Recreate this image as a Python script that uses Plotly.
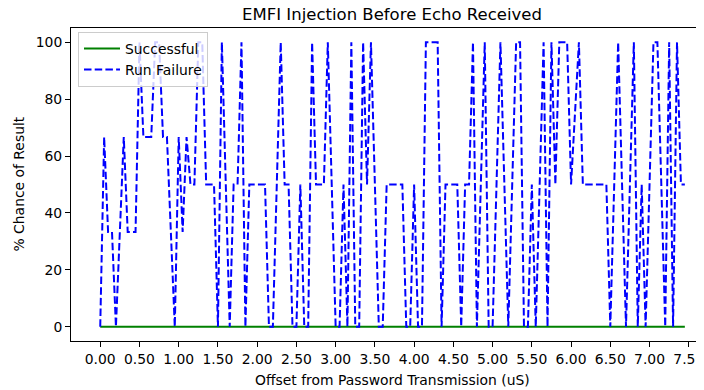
import plotly.graph_objects as go

offsets = [
    0.00, 0.05, 0.10, 0.15, 0.20, 0.25, 0.30, 0.35, 0.40, 0.45,
    0.50, 0.55, 0.60, 0.65, 0.70, 0.75, 0.80, 0.85, 0.90, 0.95,
    1.00, 1.05, 1.10, 1.15, 1.20, 1.25, 1.30, 1.35, 1.40, 1.45,
    1.50, 1.55, 1.60, 1.65, 1.70, 1.75, 1.80, 1.85, 1.90, 1.95,
    2.00, 2.05, 2.10, 2.15, 2.20, 2.25, 2.30, 2.35, 2.40, 2.45,
    2.50, 2.55, 2.60, 2.65, 2.70, 2.75, 2.80, 2.85, 2.90, 2.95,
    3.00, 3.05, 3.10, 3.15, 3.20, 3.25, 3.30, 3.35, 3.40, 3.45,
    3.50, 3.55, 3.60, 3.65, 3.70, 3.75, 3.80, 3.85, 3.90, 3.95,
    4.00, 4.05, 4.10, 4.15, 4.20, 4.25, 4.30, 4.35, 4.40, 4.45,
    4.50, 4.55, 4.60, 4.65, 4.70, 4.75, 4.80, 4.85, 4.90, 4.95,
    5.00, 5.05, 5.10, 5.15, 5.20, 5.25, 5.30, 5.35, 5.40, 5.45,
    5.50, 5.55, 5.60, 5.65, 5.70, 5.75, 5.80, 5.85, 5.90, 5.95,
    6.00, 6.05, 6.10, 6.15, 6.20, 6.25, 6.30, 6.35, 6.40, 6.45,
    6.50, 6.55, 6.60, 6.65, 6.70, 6.75, 6.80, 6.85, 6.90, 6.95,
    7.00, 7.05, 7.10, 7.15, 7.20, 7.25, 7.30, 7.35, 7.40, 7.45,
]

run_failure = [
    0, 66.7, 33.3, 33.3, 0, 33.3, 66.7, 33.3, 33.3, 33.3,
    100, 66.7, 66.7, 66.7, 100, 100, 66.7, 66.7, 33.3, 0,
    66.7, 33.3, 66.7, 50, 50, 100, 100, 50, 50, 50,
    0, 100, 50, 0, 50, 50, 100, 0, 50, 50,
    50, 50, 50, 0, 0, 50, 100, 50, 50, 0,
    0, 50, 0, 0, 100, 50, 50, 50, 100, 50,
    0, 0, 50, 0, 100, 0, 0, 100, 50, 100,
    50, 0, 0, 50, 50, 50, 50, 50, 0, 0,
    50, 0, 0, 100, 100, 100, 100, 0, 50, 50,
    50, 50, 0, 50, 50, 100, 0, 50, 100, 0,
    0, 50, 100, 50, 0, 50, 100, 100, 0, 0,
    50, 0, 50, 100, 0, 100, 50, 100, 100, 100,
    50, 75, 100, 50, 50, 50, 50, 50, 50, 50,
    0, 50, 100, 50, 0, 50, 100, 0, 50, 0,
    50, 100, 100, 50, 0, 100, 0, 100, 50, 50,
]

successful = [0] * len(offsets)

x_tick_vals = [0.0, 0.5, 1.0, 1.5, 2.0, 2.5, 3.0, 3.5, 4.0, 4.5, 5.0, 5.5, 6.0, 6.5, 7.0, 7.5]
y_tick_vals = [0, 20, 40, 60, 80, 100]

FONT = "DejaVu Sans"
FS = 13.9

# the page body has an 8px margin, so the figure is sized/positioned to compensate
OFF = 8
W, H = 704 - OFF, 390 - OFF
L = 71 - OFF
T = 28 - OFF
plot_h = 313
B = H - T - plot_h
plot_w = W - L

fig = go.Figure()
fig.add_trace(go.Scatter(
    x=offsets, y=successful, mode="lines", name="Successful",
    line=dict(color="#008000", width=2.0),
))
fig.add_trace(go.Scatter(
    x=offsets, y=run_failure, mode="lines", name="Run Failure",
    line=dict(color="#0000ff", width=2.0, dash="7.5px,3.2px"),
))

fig.update_layout(
    width=W, height=H,
    margin=dict(l=L, r=0, t=T, b=B, pad=0, autoexpand=False),
    plot_bgcolor="white", paper_bgcolor="white",
    font=dict(family=FONT, size=FS, color="black"),
    showlegend=True,
    legend=dict(
        x=(78 - 71) / plot_w, y=1 - (32 - 28) / plot_h,
        xanchor="left", yanchor="top",
        bgcolor="rgba(255,255,255,0.8)", bordercolor="#cccccc", borderwidth=1,
        font=dict(family=FONT, size=FS, color="black"),
        tracegroupgap=0, itemwidth=36,
    ),
    title=dict(
        text="EMFI Injection Before Echo Received",
        x=(392 - OFF) / W, xref="container", xanchor="center",
        y=1.0, yref="container", yanchor="top",
        pad=dict(t=0, b=0, l=0, r=0),
        font=dict(family=FONT, size=16.5, color="black"),
    ),
    xaxis=dict(
        range=[-0.3725, 7.694], automargin=False,
        tickmode="array", tickvals=x_tick_vals,
        ticktext=[f"{v:.2f}" for v in x_tick_vals],
        ticklabeloverflow="allow",
        ticks="outside", ticklen=5, tickwidth=1, tickcolor="black",
        showline=True, linecolor="black", linewidth=1, mirror=True,
        showgrid=False, zeroline=False,
        tickfont=dict(family=FONT, size=FS, color="black"),
    ),
    yaxis=dict(
        range=[-5, 105], automargin=False,
        tickmode="array", tickvals=y_tick_vals,
        ticks="outside", ticklen=5, tickwidth=1, tickcolor="black",
        showline=True, linecolor="black", linewidth=1,
        showgrid=False, zeroline=False,
        tickfont=dict(family=FONT, size=FS, color="black"),
    ),
    annotations=[
        dict(text="Offset from Password Transmission (uS)",
             xref="paper", yref="paper",
             x=(392 - 71) / plot_w, y=-(380 - 341) / plot_h,
             xanchor="center", yanchor="middle", showarrow=False,
             font=dict(family=FONT, size=FS, color="black")),
        dict(text="% Chance of Result",
             xref="paper", yref="paper",
             x=-(71 - 18) / plot_w, y=0.5, textangle=-90,
             xanchor="center", yanchor="middle", showarrow=False,
             font=dict(family=FONT, size=FS, color="black")),
    ],
)

fig.write_html("out.html")
